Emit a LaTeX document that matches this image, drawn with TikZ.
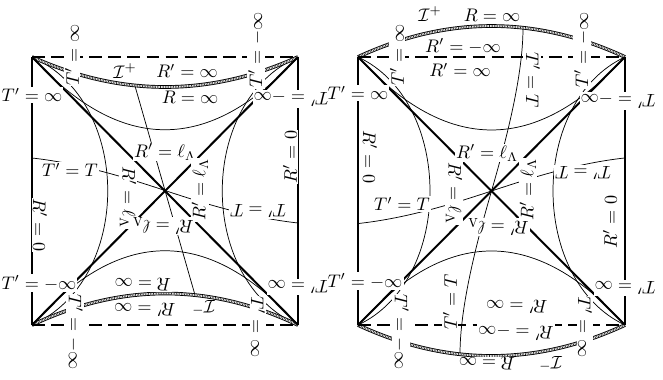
\documentclass[tikz,border=0pt]{standalone}
\begin{document}
\begin{tikzpicture}[x=0.55pt,y=-0.55pt,
  wall/.style={line width=0.8pt},
  bdash/.style={line width=0.8pt, dash pattern=on 7pt off 3.5pt},
  horizon/.style={line width=1.1pt},
  thinc/.style={line width=0.4pt},
  scri/.style={draw=white, line width=1.0pt, preaction={draw=black, line width=2.0pt}, postaction={draw=black!85, line width=1.0pt, dash pattern=on 0.35pt off 0.55pt}},
  lab/.style={fill=white, inner sep=0.6pt, font=\fontsize{10}{12}\selectfont},
]
\useasboundingbox (0,0) rectangle (663,380);
% ---------------- left diagram ----------------
\coordinate (a1) at (32,57);  \coordinate (b1) at (298,57);
\coordinate (c1) at (32,325); \coordinate (d1) at (298,325);
\coordinate (o1) at (165,190.5);
\draw[thinc] (a1) .. controls (120.7,154) and (209.3,154) .. (b1);
\draw[thinc] (c1) .. controls (120.7,226) and (209.3,226) .. (d1);
\draw[thinc] (a1) .. controls (133,101.7) and (133,280.3) .. (c1);
\draw[thinc] (b1) .. controls (197,101.7) and (197,280.3) .. (d1);
\draw[thinc] (135,86) -- (o1) -- (195,295);
\draw[thinc] (32,158) .. controls (77,163) and (120,175.5) .. (o1)
             .. controls (210,205.5) and (253,218) .. (298,223);
\draw[scri] (a1) .. controls (120.7,97) and (209.3,97) .. (b1);
\draw[scri] (c1) .. controls (120.7,283) and (209.3,283) .. (d1);
\draw[horizon] (a1) -- (d1);
\draw[horizon] (b1) -- (c1);
\draw[wall] (a1) -- (c1);
\draw[wall] (b1) -- (d1);
\draw[bdash] (a1) -- (b1);
\draw[bdash] (c1) -- (d1);
% labels
\node[lab] (l1) at (32,95) {$T'=\infty$};
\node[lab] (l2) at (39,283) {$T'=-\infty$};
\node[lab, rotate=180] (l3) at (291,99) {$T'=-\infty$};
\node[lab, rotate=180] (l4) at (298,287) {$T'=\infty$};
\node[lab, rotate=90] (l5) at (72,55) {$T'=\infty$};
\node[lab, rotate=90] (l6) at (256,50) {$T'=-\infty$};
\node[lab, rotate=-90] (l7) at (75,332) {$T'=-\infty$};
\node[lab, rotate=-90] (l8) at (258,327) {$T'=\infty$};
\node[lab] (l9) at (125,71) {$\mathcal{I}^+$};
\node[lab] (l10) at (187,71) {$R'=\infty$};
\node[lab] (l11) at (190,97) {$R=\infty$};
\node[lab, rotate=180] (l12) at (143,285) {$R=\infty$};
\node[lab, rotate=180] (l13) at (145,310) {$R'=\infty$};
\node[lab, rotate=180] (l14) at (203,308) {$\mathcal{I}^-$};
\node[lab] (l15) at (165,152) {$R'=\ell_\Lambda$};
\node[lab, rotate=-90] (l16) at (128,197) {$R'=\ell_\Lambda$};
\node[lab, rotate=90] (l17) at (200,190) {$R'=\ell_\Lambda$};
\node[lab, rotate=180] (l18) at (163,226) {$R'=\ell_\Lambda$};
\node[lab] (l19) at (70,170) {$T'=T$};
\node[lab, rotate=180] (l20) at (258,211) {$T'=T$};
\node[lab, rotate=-90] (l21) at (40,225) {$R'=0$};
\node[lab, rotate=90] (l22) at (290,157) {$R'=0$};
% ---------------- right diagram ----------------
\coordinate (a2) at (358,57);  \coordinate (b2) at (625,57);
\coordinate (c2) at (358,325); \coordinate (d2) at (625,325);
\coordinate (o2) at (491.5,191);
\draw[thinc] (a2) .. controls (447,154.3) and (536,154.3) .. (b2);
\draw[thinc] (c2) .. controls (447,226.3) and (536,226.3) .. (d2);
\draw[thinc] (a2) .. controls (454,101.7) and (454,280.3) .. (c2);
\draw[thinc] (b2) .. controls (529,101.7) and (529,280.3) .. (d2);
\draw[thinc] (523,28) .. controls (523,76) and (506,141) .. (o2)
             .. controls (477,241) and (460,306) .. (460,354);
\draw[thinc] (358.5,223.5) .. controls (403.5,218.5) and (446.5,206) .. (o2)
             .. controls (536.5,176) and (579.5,163) .. (624.5,158);
\draw[scri] (a2) .. controls (447,15.7) and (536,15.7) .. (b2);
\draw[scri] (c2) .. controls (447,366.3) and (536,366.3) .. (d2);
\draw[horizon] (a2) -- (d2);
\draw[horizon] (b2) -- (c2);
\draw[wall] (a2) -- (c2);
\draw[wall] (b2) -- (d2);
\draw[bdash] (a2) -- (b2);
\draw[bdash] (c2) -- (d2);
% labels
\node[lab] (m1) at (430,14) {$\mathcal{I}^+$};
\node[lab] (m2) at (492,15) {$R=\infty$};
\node[lab] (m3) at (463,46) {$R'=-\infty$};
\node[lab] (m4) at (460,70) {$R'=\infty$};
\node[lab] (m5) at (358,93) {$T'=\infty$};
\node[lab] (m6) at (365,281) {$T'=-\infty$};
\node[lab, rotate=180] (m7) at (618,101) {$T'=-\infty$};
\node[lab, rotate=180] (m8) at (625,288) {$T'=\infty$};
\node[lab, rotate=90] (m9) at (397,55) {$T'=\infty$};
\node[lab, rotate=90] (m10) at (582,50) {$T'=-\infty$};
\node[lab, rotate=-90] (m11) at (401,332) {$T'=-\infty$};
\node[lab, rotate=-90] (m12) at (585,327) {$T'=\infty$};
\node[lab] (m13) at (487,153) {$R'=\ell_\Lambda$};
\node[lab, rotate=-90] (m14) at (454,193) {$R'=\ell_\Lambda$};
\node[lab, rotate=90] (m15) at (528,190) {$R'=\ell_\Lambda$};
\node[lab, rotate=180] (m16) at (498,227) {$R'=\ell_\Lambda$};
\node[lab] (m17) at (402,204) {$T'=T$};
\node[lab, rotate=180] (m18) at (583,173) {$T'=T$};
\node[lab, rotate=-90] (m19) at (533,80) {$T'=T$};
\node[lab, rotate=90] (m20) at (450,302) {$T'=T$};
\node[lab, rotate=-90] (m21) at (370,157) {$R'=0$};
\node[lab, rotate=90] (m22) at (610,222) {$R'=0$};
\node[lab, rotate=180] (m23) at (517,307) {$R'=\infty$};
\node[lab, rotate=180] (m24) at (516,333) {$R'=-\infty$};
\node[lab, rotate=180] (m25) at (487,364) {$R=\infty$};
\node[lab, rotate=180] (m26) at (550,364) {$\mathcal{I}^-$};
\end{tikzpicture}
\end{document}
